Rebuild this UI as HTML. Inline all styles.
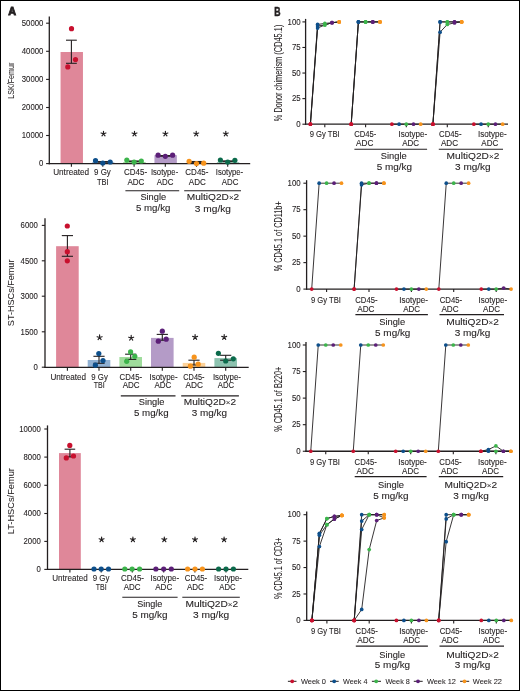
<!DOCTYPE html><html><head><meta charset="utf-8"><style>html,body{margin:0;padding:0;background:#fff;}svg{display:block;will-change:transform;} text{stroke:#231f20;stroke-width:0.1px;}</style></head><body><svg width="520" height="691" viewBox="0 0 520 691" font-family='"Liberation Sans", sans-serif' fill="#231f20">
<rect x="0" y="0" width="520" height="691" fill="#fff"/>
<rect x="60.55" y="52" width="22.4" height="111.6" fill="#df8799"/>
<rect x="91.95" y="162.3" width="22.4" height="1.3" fill="#90b0d2"/>
<rect x="123.25" y="162" width="22.4" height="1.6" fill="#9fdc9c"/>
<rect x="154.45" y="155.2" width="22.4" height="8.4" fill="#b49bc7"/>
<rect x="185.65" y="162.8" width="22.4" height="0.8" fill="#fdd39b"/>
<rect x="216.85" y="162.2" width="22.4" height="1.4" fill="#8ec3b0"/>
<line x1="71.4" y1="40.2" x2="71.4" y2="63.3" stroke="#231f20" stroke-width="1.1"/>
<line x1="66" y1="40.2" x2="76.8" y2="40.2" stroke="#231f20" stroke-width="1.1"/>
<line x1="66" y1="63.3" x2="76.8" y2="63.3" stroke="#231f20" stroke-width="1.1"/>
<line x1="102.8" y1="161.6" x2="102.8" y2="162.2" stroke="#231f20" stroke-width="1.1"/>
<line x1="97.4" y1="161.6" x2="108.2" y2="161.6" stroke="#231f20" stroke-width="1.1"/>
<line x1="97.4" y1="162.2" x2="108.2" y2="162.2" stroke="#231f20" stroke-width="1.1"/>
<line x1="134.1" y1="161" x2="134.1" y2="161.6" stroke="#231f20" stroke-width="1.1"/>
<line x1="128.7" y1="161" x2="139.5" y2="161" stroke="#231f20" stroke-width="1.1"/>
<line x1="128.7" y1="161.6" x2="139.5" y2="161.6" stroke="#231f20" stroke-width="1.1"/>
<line x1="165.3" y1="155.6" x2="165.3" y2="156.2" stroke="#231f20" stroke-width="1.1"/>
<line x1="159.9" y1="155.6" x2="170.7" y2="155.6" stroke="#231f20" stroke-width="1.1"/>
<line x1="159.9" y1="156.2" x2="170.7" y2="156.2" stroke="#231f20" stroke-width="1.1"/>
<line x1="196.5" y1="161.5" x2="196.5" y2="162.4" stroke="#231f20" stroke-width="1.1"/>
<line x1="191.1" y1="161.5" x2="201.9" y2="161.5" stroke="#231f20" stroke-width="1.1"/>
<line x1="191.1" y1="162.4" x2="201.9" y2="162.4" stroke="#231f20" stroke-width="1.1"/>
<line x1="227.7" y1="160.9" x2="227.7" y2="161.6" stroke="#231f20" stroke-width="1.1"/>
<line x1="222.3" y1="160.9" x2="233.1" y2="160.9" stroke="#231f20" stroke-width="1.1"/>
<line x1="222.3" y1="161.6" x2="233.1" y2="161.6" stroke="#231f20" stroke-width="1.1"/>
<line x1="49.3" y1="16.6" x2="49.3" y2="164.2" stroke="#231f20" stroke-width="1.3"/>
<line x1="48.7" y1="163.6" x2="250.2" y2="163.6" stroke="#231f20" stroke-width="1.3"/>
<line x1="46.1" y1="23.2" x2="49.3" y2="23.2" stroke="#231f20" stroke-width="1.1"/>
<text x="43.4" y="25.95" font-size="8.6" text-anchor="end" textLength="21.65" lengthAdjust="spacingAndGlyphs">50000</text>
<line x1="46.1" y1="51.3" x2="49.3" y2="51.3" stroke="#231f20" stroke-width="1.1"/>
<text x="43.4" y="54.05" font-size="8.6" text-anchor="end" textLength="21.65" lengthAdjust="spacingAndGlyphs">40000</text>
<line x1="46.1" y1="79.4" x2="49.3" y2="79.4" stroke="#231f20" stroke-width="1.1"/>
<text x="43.4" y="82.15" font-size="8.6" text-anchor="end" textLength="21.65" lengthAdjust="spacingAndGlyphs">30000</text>
<line x1="46.1" y1="107.5" x2="49.3" y2="107.5" stroke="#231f20" stroke-width="1.1"/>
<text x="43.4" y="110.25" font-size="8.6" text-anchor="end" textLength="21.65" lengthAdjust="spacingAndGlyphs">20000</text>
<line x1="46.1" y1="135.5" x2="49.3" y2="135.5" stroke="#231f20" stroke-width="1.1"/>
<text x="43.4" y="138.25" font-size="8.6" text-anchor="end" textLength="21.65" lengthAdjust="spacingAndGlyphs">10000</text>
<line x1="46.1" y1="163.6" x2="49.3" y2="163.6" stroke="#231f20" stroke-width="1.1"/>
<text x="43.4" y="166.35" font-size="8.6" text-anchor="end" textLength="4.33" lengthAdjust="spacingAndGlyphs">0</text>
<line x1="71.4" y1="163.6" x2="71.4" y2="166.8" stroke="#231f20" stroke-width="1.1"/>
<line x1="102.8" y1="163.6" x2="102.8" y2="166.8" stroke="#231f20" stroke-width="1.1"/>
<line x1="134.1" y1="163.6" x2="134.1" y2="166.8" stroke="#231f20" stroke-width="1.1"/>
<line x1="165.3" y1="163.6" x2="165.3" y2="166.8" stroke="#231f20" stroke-width="1.1"/>
<line x1="196.5" y1="163.6" x2="196.5" y2="166.8" stroke="#231f20" stroke-width="1.1"/>
<line x1="227.7" y1="163.6" x2="227.7" y2="166.8" stroke="#231f20" stroke-width="1.1"/>
<circle cx="71.5" cy="28.65" r="2.6" fill="#c8102e"/>
<circle cx="75.5" cy="59.5" r="2.6" fill="#c8102e"/>
<circle cx="67.8" cy="66.9" r="2.6" fill="#c8102e"/>
<circle cx="95.5" cy="160.7" r="2.6" fill="#0d4f8b"/>
<circle cx="102.8" cy="163" r="2.6" fill="#0d4f8b"/>
<circle cx="110.2" cy="162" r="2.6" fill="#0d4f8b"/>
<circle cx="126.8" cy="160.1" r="2.6" fill="#3cb44b"/>
<circle cx="134.1" cy="162" r="2.6" fill="#3cb44b"/>
<circle cx="141.3" cy="161" r="2.6" fill="#3cb44b"/>
<circle cx="158.1" cy="155.2" r="2.6" fill="#5c1f78"/>
<circle cx="165.3" cy="156.3" r="2.6" fill="#5c1f78"/>
<circle cx="172.6" cy="155.2" r="2.6" fill="#5c1f78"/>
<circle cx="189.1" cy="161.3" r="2.6" fill="#f7941d"/>
<circle cx="196.5" cy="163.6" r="2.6" fill="#f7941d"/>
<circle cx="203.7" cy="163.2" r="2.6" fill="#f7941d"/>
<circle cx="220.4" cy="160" r="2.6" fill="#0b6a4b"/>
<circle cx="227.7" cy="162.1" r="2.6" fill="#0b6a4b"/>
<circle cx="234.9" cy="160.3" r="2.6" fill="#0b6a4b"/>
<path d="M103.5 133.8L103.5 131.2M103.5 133.8L105.97 133M103.5 133.8L105.03 135.9M103.5 133.8L101.97 135.9M103.5 133.8L101.03 133" stroke="#231f20" stroke-width="1.15" stroke-linecap="round" fill="none"/>
<path d="M134.5 133.8L134.5 131.2M134.5 133.8L136.97 133M134.5 133.8L136.03 135.9M134.5 133.8L132.97 135.9M134.5 133.8L132.03 133" stroke="#231f20" stroke-width="1.15" stroke-linecap="round" fill="none"/>
<path d="M165.4 133.8L165.4 131.2M165.4 133.8L167.87 133M165.4 133.8L166.93 135.9M165.4 133.8L163.87 135.9M165.4 133.8L162.93 133" stroke="#231f20" stroke-width="1.15" stroke-linecap="round" fill="none"/>
<path d="M196.2 133.8L196.2 131.2M196.2 133.8L198.67 133M196.2 133.8L197.73 135.9M196.2 133.8L194.67 135.9M196.2 133.8L193.73 133" stroke="#231f20" stroke-width="1.15" stroke-linecap="round" fill="none"/>
<path d="M225.8 133.8L225.8 131.2M225.8 133.8L228.27 133M225.8 133.8L227.33 135.9M225.8 133.8L224.27 135.9M225.8 133.8L223.33 133" stroke="#231f20" stroke-width="1.15" stroke-linecap="round" fill="none"/>
<text x="14.5" y="80.7" font-size="9.3" text-anchor="middle" textLength="36.2" lengthAdjust="spacingAndGlyphs" transform="rotate(-90 14.5 80.7)" style="stroke-width:0.05px">LSK/Femur</text>
<text x="71.15" y="175.3" font-size="8.7" text-anchor="middle" textLength="36" lengthAdjust="spacingAndGlyphs">Untreated</text>
<text x="102.4" y="175.3" font-size="8.7" text-anchor="middle" textLength="16.8" lengthAdjust="spacingAndGlyphs">9 Gy</text>
<text x="102.7" y="184.8" font-size="8.7" text-anchor="middle" textLength="11.6" lengthAdjust="spacingAndGlyphs">TBI</text>
<text x="135.55" y="175.3" font-size="8.7" text-anchor="middle" textLength="23.1" lengthAdjust="spacingAndGlyphs">CD45-</text>
<text x="135.95" y="184.8" font-size="8.7" text-anchor="middle" textLength="17" lengthAdjust="spacingAndGlyphs">ADC</text>
<text x="164.55" y="175.3" font-size="8.7" text-anchor="middle" textLength="27.3" lengthAdjust="spacingAndGlyphs">Isotype-</text>
<text x="165.15" y="184.8" font-size="8.7" text-anchor="middle" textLength="16.6" lengthAdjust="spacingAndGlyphs">ADC</text>
<text x="196.9" y="175.3" font-size="8.7" text-anchor="middle" textLength="23.1" lengthAdjust="spacingAndGlyphs">CD45-</text>
<text x="197.3" y="184.8" font-size="8.7" text-anchor="middle" textLength="17" lengthAdjust="spacingAndGlyphs">ADC</text>
<text x="229.5" y="175.3" font-size="8.7" text-anchor="middle" textLength="27.3" lengthAdjust="spacingAndGlyphs">Isotype-</text>
<text x="230.1" y="184.8" font-size="8.7" text-anchor="middle" textLength="16.6" lengthAdjust="spacingAndGlyphs">ADC</text>
<line x1="125.4" y1="190.8" x2="179.2" y2="190.8" stroke="#231f20" stroke-width="1.1"/>
<line x1="184.2" y1="190.8" x2="241" y2="190.8" stroke="#231f20" stroke-width="1.1"/>
<text x="153.25" y="199.9" font-size="9.6" text-anchor="middle" textLength="25.7" lengthAdjust="spacingAndGlyphs">Single</text>
<text x="153.2" y="211.2" font-size="9.6" text-anchor="middle" textLength="34.4" lengthAdjust="spacingAndGlyphs">5 mg/kg</text>
<text x="213" y="200.3" font-size="9.6" text-anchor="middle" textLength="52.5" lengthAdjust="spacingAndGlyphs">MultiQ2D<tspan font-size="7.68" style="stroke-width:0">×</tspan>2</text>
<text x="212.9" y="211.5" font-size="9.6" text-anchor="middle" textLength="36.1" lengthAdjust="spacingAndGlyphs">3 mg/kg</text>
<rect x="56.1" y="246.2" width="22.6" height="121.25" fill="#df8799"/>
<rect x="87.7" y="360" width="22.6" height="7.45" fill="#90b0d2"/>
<rect x="119.4" y="357" width="22.6" height="10.45" fill="#9fdc9c"/>
<rect x="151" y="337.9" width="22.6" height="29.55" fill="#b49bc7"/>
<rect x="182.7" y="362.9" width="22.6" height="4.55" fill="#fdd39b"/>
<rect x="214.4" y="358.1" width="22.6" height="9.35" fill="#8ec3b0"/>
<line x1="67.4" y1="235.6" x2="67.4" y2="256.3" stroke="#231f20" stroke-width="1.1"/>
<line x1="61.8" y1="235.6" x2="73" y2="235.6" stroke="#231f20" stroke-width="1.1"/>
<line x1="61.8" y1="256.3" x2="73" y2="256.3" stroke="#231f20" stroke-width="1.1"/>
<line x1="99" y1="356.3" x2="99" y2="363.3" stroke="#231f20" stroke-width="1.1"/>
<line x1="93.4" y1="356.3" x2="104.6" y2="356.3" stroke="#231f20" stroke-width="1.1"/>
<line x1="93.4" y1="363.3" x2="104.6" y2="363.3" stroke="#231f20" stroke-width="1.1"/>
<line x1="130.7" y1="354.2" x2="130.7" y2="359.4" stroke="#231f20" stroke-width="1.1"/>
<line x1="125.1" y1="354.2" x2="136.3" y2="354.2" stroke="#231f20" stroke-width="1.1"/>
<line x1="125.1" y1="359.4" x2="136.3" y2="359.4" stroke="#231f20" stroke-width="1.1"/>
<line x1="162.3" y1="334.4" x2="162.3" y2="340.2" stroke="#231f20" stroke-width="1.1"/>
<line x1="156.7" y1="334.4" x2="167.9" y2="334.4" stroke="#231f20" stroke-width="1.1"/>
<line x1="156.7" y1="340.2" x2="167.9" y2="340.2" stroke="#231f20" stroke-width="1.1"/>
<line x1="194" y1="360.2" x2="194" y2="365" stroke="#231f20" stroke-width="1.1"/>
<line x1="188.4" y1="360.2" x2="199.6" y2="360.2" stroke="#231f20" stroke-width="1.1"/>
<line x1="188.4" y1="365" x2="199.6" y2="365" stroke="#231f20" stroke-width="1.1"/>
<line x1="225.7" y1="355.3" x2="225.7" y2="360.2" stroke="#231f20" stroke-width="1.1"/>
<line x1="220.1" y1="355.3" x2="231.3" y2="355.3" stroke="#231f20" stroke-width="1.1"/>
<line x1="220.1" y1="360.2" x2="231.3" y2="360.2" stroke="#231f20" stroke-width="1.1"/>
<line x1="45" y1="218.2" x2="45" y2="368.05" stroke="#231f20" stroke-width="1.3"/>
<line x1="44.4" y1="367.45" x2="248.7" y2="367.45" stroke="#231f20" stroke-width="1.3"/>
<line x1="41.8" y1="225.4" x2="45" y2="225.4" stroke="#231f20" stroke-width="1.1"/>
<text x="37.9" y="228.15" font-size="8.6" text-anchor="end" textLength="17.32" lengthAdjust="spacingAndGlyphs">6000</text>
<line x1="41.8" y1="260.8" x2="45" y2="260.8" stroke="#231f20" stroke-width="1.1"/>
<text x="37.9" y="263.55" font-size="8.6" text-anchor="end" textLength="17.32" lengthAdjust="spacingAndGlyphs">4500</text>
<line x1="41.8" y1="296.2" x2="45" y2="296.2" stroke="#231f20" stroke-width="1.1"/>
<text x="37.9" y="298.95" font-size="8.6" text-anchor="end" textLength="17.32" lengthAdjust="spacingAndGlyphs">3000</text>
<line x1="41.8" y1="331.8" x2="45" y2="331.8" stroke="#231f20" stroke-width="1.1"/>
<text x="37.9" y="334.55" font-size="8.6" text-anchor="end" textLength="17.32" lengthAdjust="spacingAndGlyphs">1500</text>
<line x1="41.8" y1="367.2" x2="45" y2="367.2" stroke="#231f20" stroke-width="1.1"/>
<text x="37.9" y="369.95" font-size="8.6" text-anchor="end" textLength="4.33" lengthAdjust="spacingAndGlyphs">0</text>
<line x1="67.4" y1="367.45" x2="67.4" y2="370.65" stroke="#231f20" stroke-width="1.1"/>
<line x1="99" y1="367.45" x2="99" y2="370.65" stroke="#231f20" stroke-width="1.1"/>
<line x1="130.7" y1="367.45" x2="130.7" y2="370.65" stroke="#231f20" stroke-width="1.1"/>
<line x1="162.3" y1="367.45" x2="162.3" y2="370.65" stroke="#231f20" stroke-width="1.1"/>
<line x1="194" y1="367.45" x2="194" y2="370.65" stroke="#231f20" stroke-width="1.1"/>
<line x1="225.7" y1="367.45" x2="225.7" y2="370.65" stroke="#231f20" stroke-width="1.1"/>
<circle cx="67.3" cy="226" r="2.6" fill="#c8102e"/>
<circle cx="67.3" cy="251.7" r="2.6" fill="#c8102e"/>
<circle cx="67.3" cy="260.8" r="2.6" fill="#c8102e"/>
<circle cx="98.8" cy="353.5" r="2.6" fill="#0d4f8b"/>
<circle cx="103" cy="360.6" r="2.6" fill="#0d4f8b"/>
<circle cx="95.4" cy="365.2" r="2.6" fill="#0d4f8b"/>
<circle cx="130.6" cy="351.9" r="2.6" fill="#3cb44b"/>
<circle cx="134.8" cy="356.3" r="2.6" fill="#3cb44b"/>
<circle cx="126.7" cy="361.3" r="2.6" fill="#3cb44b"/>
<circle cx="162.3" cy="331.2" r="2.6" fill="#5c1f78"/>
<circle cx="166.2" cy="339.2" r="2.6" fill="#5c1f78"/>
<circle cx="158.3" cy="341.2" r="2.6" fill="#5c1f78"/>
<circle cx="194.2" cy="357.2" r="2.6" fill="#f7941d"/>
<circle cx="198.2" cy="364.2" r="2.6" fill="#f7941d"/>
<circle cx="190.4" cy="366.2" r="2.6" fill="#f7941d"/>
<circle cx="218.4" cy="353.3" r="2.6" fill="#0b6a4b"/>
<circle cx="233.3" cy="358.8" r="2.6" fill="#0b6a4b"/>
<circle cx="225.7" cy="361" r="2.6" fill="#0b6a4b"/>
<path d="M99.6 337.5L99.6 334.9M99.6 337.5L102.07 336.7M99.6 337.5L101.13 339.6M99.6 337.5L98.07 339.6M99.6 337.5L97.13 336.7" stroke="#231f20" stroke-width="1.15" stroke-linecap="round" fill="none"/>
<path d="M131.2 338L131.2 335.4M131.2 338L133.67 337.2M131.2 338L132.73 340.1M131.2 338L129.67 340.1M131.2 338L128.73 337.2" stroke="#231f20" stroke-width="1.15" stroke-linecap="round" fill="none"/>
<path d="M195.1 337.2L195.1 334.6M195.1 337.2L197.57 336.4M195.1 337.2L196.63 339.3M195.1 337.2L193.57 339.3M195.1 337.2L192.63 336.4" stroke="#231f20" stroke-width="1.15" stroke-linecap="round" fill="none"/>
<path d="M224.2 337.2L224.2 334.6M224.2 337.2L226.67 336.4M224.2 337.2L225.73 339.3M224.2 337.2L222.67 339.3M224.2 337.2L221.73 336.4" stroke="#231f20" stroke-width="1.15" stroke-linecap="round" fill="none"/>
<text x="14" y="292.85" font-size="9.3" text-anchor="middle" textLength="66.6" lengthAdjust="spacingAndGlyphs" transform="rotate(-90 14 292.85)" style="stroke-width:0.05px">ST-HSCs/Femur</text>
<text x="68.3" y="380.3" font-size="8.7" text-anchor="middle" textLength="35.6" lengthAdjust="spacingAndGlyphs">Untreated</text>
<text x="99.55" y="380.3" font-size="8.7" text-anchor="middle" textLength="16.5" lengthAdjust="spacingAndGlyphs">9 Gy</text>
<text x="99.15" y="387.8" font-size="8.7" text-anchor="middle" textLength="10.9" lengthAdjust="spacingAndGlyphs">TBI</text>
<text x="130.85" y="380.3" font-size="8.7" text-anchor="middle" textLength="22.5" lengthAdjust="spacingAndGlyphs">CD45-</text>
<text x="131.1" y="387.8" font-size="8.7" text-anchor="middle" textLength="16.9" lengthAdjust="spacingAndGlyphs">ADC</text>
<text x="163.55" y="380.3" font-size="8.7" text-anchor="middle" textLength="28.1" lengthAdjust="spacingAndGlyphs">Isotype-</text>
<text x="162.85" y="387.8" font-size="8.7" text-anchor="middle" textLength="16.9" lengthAdjust="spacingAndGlyphs">ADC</text>
<text x="193.9" y="380.3" font-size="8.7" text-anchor="middle" textLength="21.2" lengthAdjust="spacingAndGlyphs">CD45-</text>
<text x="194.25" y="387.8" font-size="8.7" text-anchor="middle" textLength="17.5" lengthAdjust="spacingAndGlyphs">ADC</text>
<text x="226.95" y="380.3" font-size="8.7" text-anchor="middle" textLength="28.1" lengthAdjust="spacingAndGlyphs">Isotype-</text>
<text x="225.95" y="387.8" font-size="8.7" text-anchor="middle" textLength="16.3" lengthAdjust="spacingAndGlyphs">ADC</text>
<line x1="120.8" y1="395.9" x2="175.5" y2="395.9" stroke="#231f20" stroke-width="1.1"/>
<line x1="181.2" y1="395.9" x2="238.9" y2="395.9" stroke="#231f20" stroke-width="1.1"/>
<text x="151.6" y="405.2" font-size="9.6" text-anchor="middle" textLength="25.7" lengthAdjust="spacingAndGlyphs">Single</text>
<text x="151.3" y="415.7" font-size="9.6" text-anchor="middle" textLength="34.6" lengthAdjust="spacingAndGlyphs">5 mg/kg</text>
<text x="210" y="405.2" font-size="9.6" text-anchor="middle" textLength="52.4" lengthAdjust="spacingAndGlyphs">MultiQ2D<tspan font-size="7.68" style="stroke-width:0">×</tspan>2</text>
<text x="209.45" y="415.7" font-size="9.6" text-anchor="middle" textLength="35.3" lengthAdjust="spacingAndGlyphs">3 mg/kg</text>
<rect x="59" y="453.1" width="21.8" height="116.3" fill="#df8799"/>
<line x1="69.9" y1="449.2" x2="69.9" y2="456.9" stroke="#231f20" stroke-width="1.1"/>
<line x1="64.6" y1="449.2" x2="75.2" y2="449.2" stroke="#231f20" stroke-width="1.1"/>
<line x1="64.6" y1="456.9" x2="75.2" y2="456.9" stroke="#231f20" stroke-width="1.1"/>
<line x1="47.5" y1="425.4" x2="47.5" y2="570" stroke="#231f20" stroke-width="1.3"/>
<line x1="46.9" y1="569.4" x2="248.3" y2="569.4" stroke="#231f20" stroke-width="1.3"/>
<line x1="44.3" y1="429" x2="47.5" y2="429" stroke="#231f20" stroke-width="1.1"/>
<text x="40.8" y="431.75" font-size="8.6" text-anchor="end" textLength="21.65" lengthAdjust="spacingAndGlyphs">10000</text>
<line x1="44.3" y1="457.1" x2="47.5" y2="457.1" stroke="#231f20" stroke-width="1.1"/>
<text x="40.8" y="459.85" font-size="8.6" text-anchor="end" textLength="17.32" lengthAdjust="spacingAndGlyphs">8000</text>
<line x1="44.3" y1="485.3" x2="47.5" y2="485.3" stroke="#231f20" stroke-width="1.1"/>
<text x="40.8" y="488.05" font-size="8.6" text-anchor="end" textLength="17.32" lengthAdjust="spacingAndGlyphs">6000</text>
<line x1="44.3" y1="513.5" x2="47.5" y2="513.5" stroke="#231f20" stroke-width="1.1"/>
<text x="40.8" y="516.25" font-size="8.6" text-anchor="end" textLength="17.32" lengthAdjust="spacingAndGlyphs">4000</text>
<line x1="44.3" y1="541.4" x2="47.5" y2="541.4" stroke="#231f20" stroke-width="1.1"/>
<text x="40.8" y="544.15" font-size="8.6" text-anchor="end" textLength="17.32" lengthAdjust="spacingAndGlyphs">2000</text>
<line x1="44.3" y1="569.4" x2="47.5" y2="569.4" stroke="#231f20" stroke-width="1.1"/>
<text x="40.8" y="572.15" font-size="8.6" text-anchor="end" textLength="4.33" lengthAdjust="spacingAndGlyphs">0</text>
<line x1="69.9" y1="569.4" x2="69.9" y2="572.6" stroke="#231f20" stroke-width="1.1"/>
<line x1="101.2" y1="569.4" x2="101.2" y2="572.6" stroke="#231f20" stroke-width="1.1"/>
<line x1="132.3" y1="569.4" x2="132.3" y2="572.6" stroke="#231f20" stroke-width="1.1"/>
<line x1="163.7" y1="569.4" x2="163.7" y2="572.6" stroke="#231f20" stroke-width="1.1"/>
<line x1="194.9" y1="569.4" x2="194.9" y2="572.6" stroke="#231f20" stroke-width="1.1"/>
<line x1="226" y1="569.4" x2="226" y2="572.6" stroke="#231f20" stroke-width="1.1"/>
<circle cx="69.8" cy="445.4" r="2.6" fill="#c8102e"/>
<circle cx="73.5" cy="456" r="2.6" fill="#c8102e"/>
<circle cx="66.3" cy="457.9" r="2.6" fill="#c8102e"/>
<circle cx="94" cy="569" r="2.6" fill="#0d4f8b"/>
<circle cx="101.2" cy="569" r="2.6" fill="#0d4f8b"/>
<circle cx="108.5" cy="569" r="2.6" fill="#0d4f8b"/>
<circle cx="124.8" cy="569" r="2.6" fill="#3cb44b"/>
<circle cx="132.1" cy="569" r="2.6" fill="#3cb44b"/>
<circle cx="139.6" cy="569" r="2.6" fill="#3cb44b"/>
<circle cx="155.9" cy="569" r="2.6" fill="#5c1f78"/>
<circle cx="163.7" cy="569" r="2.6" fill="#5c1f78"/>
<circle cx="171.3" cy="569" r="2.6" fill="#5c1f78"/>
<circle cx="187.6" cy="569" r="2.6" fill="#f7941d"/>
<circle cx="195" cy="569" r="2.6" fill="#f7941d"/>
<circle cx="202.4" cy="569" r="2.6" fill="#f7941d"/>
<circle cx="218.6" cy="569" r="2.6" fill="#0b6a4b"/>
<circle cx="226" cy="569" r="2.6" fill="#0b6a4b"/>
<circle cx="233.4" cy="569" r="2.6" fill="#0b6a4b"/>
<path d="M101.6 539.6L101.6 537M101.6 539.6L104.07 538.8M101.6 539.6L103.13 541.7M101.6 539.6L100.07 541.7M101.6 539.6L99.13 538.8" stroke="#231f20" stroke-width="1.15" stroke-linecap="round" fill="none"/>
<path d="M132.9 539.6L132.9 537M132.9 539.6L135.37 538.8M132.9 539.6L134.43 541.7M132.9 539.6L131.37 541.7M132.9 539.6L130.43 538.8" stroke="#231f20" stroke-width="1.15" stroke-linecap="round" fill="none"/>
<path d="M164.3 539.6L164.3 537M164.3 539.6L166.77 538.8M164.3 539.6L165.83 541.7M164.3 539.6L162.77 541.7M164.3 539.6L161.83 538.8" stroke="#231f20" stroke-width="1.15" stroke-linecap="round" fill="none"/>
<path d="M195 539.6L195 537M195 539.6L197.47 538.8M195 539.6L196.53 541.7M195 539.6L193.47 541.7M195 539.6L192.53 538.8" stroke="#231f20" stroke-width="1.15" stroke-linecap="round" fill="none"/>
<path d="M224.1 539.6L224.1 537M224.1 539.6L226.57 538.8M224.1 539.6L225.63 541.7M224.1 539.6L222.57 541.7M224.1 539.6L221.63 538.8" stroke="#231f20" stroke-width="1.15" stroke-linecap="round" fill="none"/>
<text x="13.6" y="501.2" font-size="9.3" text-anchor="middle" textLength="66.1" lengthAdjust="spacingAndGlyphs" transform="rotate(-90 13.6 501.2)" style="stroke-width:0.05px">LT-HSCs/Femur</text>
<text x="70" y="581.3" font-size="8.7" text-anchor="middle" textLength="35.4" lengthAdjust="spacingAndGlyphs">Untreated</text>
<text x="101.05" y="581.3" font-size="8.7" text-anchor="middle" textLength="16.7" lengthAdjust="spacingAndGlyphs">9 Gy</text>
<text x="101.2" y="589.6" font-size="8.7" text-anchor="middle" textLength="10.9" lengthAdjust="spacingAndGlyphs">TBI</text>
<text x="132.5" y="581.3" font-size="8.7" text-anchor="middle" textLength="23" lengthAdjust="spacingAndGlyphs">CD45-</text>
<text x="132.2" y="589.6" font-size="8.7" text-anchor="middle" textLength="16.8" lengthAdjust="spacingAndGlyphs">ADC</text>
<text x="164.85" y="581.3" font-size="8.7" text-anchor="middle" textLength="28.5" lengthAdjust="spacingAndGlyphs">Isotype-</text>
<text x="163.75" y="589.6" font-size="8.7" text-anchor="middle" textLength="17.1" lengthAdjust="spacingAndGlyphs">ADC</text>
<text x="196" y="581.3" font-size="8.7" text-anchor="middle" textLength="22.4" lengthAdjust="spacingAndGlyphs">CD45-</text>
<text x="195.35" y="589.6" font-size="8.7" text-anchor="middle" textLength="16.9" lengthAdjust="spacingAndGlyphs">ADC</text>
<text x="227.95" y="581.3" font-size="8.7" text-anchor="middle" textLength="27.9" lengthAdjust="spacingAndGlyphs">Isotype-</text>
<text x="227.45" y="589.6" font-size="8.7" text-anchor="middle" textLength="16.3" lengthAdjust="spacingAndGlyphs">ADC</text>
<line x1="122.3" y1="597.2" x2="177.6" y2="597.2" stroke="#231f20" stroke-width="1.1"/>
<line x1="182.3" y1="597.2" x2="239.8" y2="597.2" stroke="#231f20" stroke-width="1.1"/>
<text x="149.8" y="607.3" font-size="9.6" text-anchor="middle" textLength="25.2" lengthAdjust="spacingAndGlyphs">Single</text>
<text x="149.95" y="618.2" font-size="9.6" text-anchor="middle" textLength="35.3" lengthAdjust="spacingAndGlyphs">5 mg/kg</text>
<text x="211.9" y="606.9" font-size="9.6" text-anchor="middle" textLength="52.8" lengthAdjust="spacingAndGlyphs">MultiQ2D<tspan font-size="7.68" style="stroke-width:0">×</tspan>2</text>
<text x="211.05" y="617.9" font-size="9.6" text-anchor="middle" textLength="36.3" lengthAdjust="spacingAndGlyphs">3 mg/kg</text>
<line x1="305.6" y1="18.9" x2="305.6" y2="124.8" stroke="#231f20" stroke-width="1.3"/>
<line x1="305" y1="124.2" x2="508" y2="124.2" stroke="#231f20" stroke-width="1.3"/>
<line x1="302.4" y1="21.9" x2="305.6" y2="21.9" stroke="#231f20" stroke-width="1.1"/>
<text x="300.7" y="24.65" font-size="8.6" text-anchor="end" textLength="13.11" lengthAdjust="spacingAndGlyphs">100</text>
<line x1="302.4" y1="47.47" x2="305.6" y2="47.47" stroke="#231f20" stroke-width="1.1"/>
<text x="300.7" y="50.22" font-size="8.6" text-anchor="end" textLength="8.74" lengthAdjust="spacingAndGlyphs">75</text>
<line x1="302.4" y1="73.05" x2="305.6" y2="73.05" stroke="#231f20" stroke-width="1.1"/>
<text x="300.7" y="75.8" font-size="8.6" text-anchor="end" textLength="8.74" lengthAdjust="spacingAndGlyphs">50</text>
<line x1="302.4" y1="98.62" x2="305.6" y2="98.62" stroke="#231f20" stroke-width="1.1"/>
<text x="300.7" y="101.38" font-size="8.6" text-anchor="end" textLength="8.74" lengthAdjust="spacingAndGlyphs">25</text>
<line x1="302.4" y1="124.2" x2="305.6" y2="124.2" stroke="#231f20" stroke-width="1.1"/>
<text x="300.7" y="126.95" font-size="8.6" text-anchor="end" textLength="4.37" lengthAdjust="spacingAndGlyphs">0</text>
<line x1="324.8" y1="124.2" x2="324.8" y2="127.2" stroke="#231f20" stroke-width="1.1"/>
<line x1="365.6" y1="124.2" x2="365.6" y2="127.2" stroke="#231f20" stroke-width="1.1"/>
<line x1="406.3" y1="124.2" x2="406.3" y2="127.2" stroke="#231f20" stroke-width="1.1"/>
<line x1="447.3" y1="124.2" x2="447.3" y2="127.2" stroke="#231f20" stroke-width="1.1"/>
<line x1="488.25" y1="124.2" x2="488.25" y2="127.2" stroke="#231f20" stroke-width="1.1"/>
<polyline points="310.4,124.2 317.6,24.46 324.8,23.43 332,22.72 339.2,21.9" fill="none" stroke="#231f20" stroke-width="0.9" stroke-linejoin="round"/>
<polyline points="310.4,124.2 317.6,25.99 324.8,24.97 332,22.72 339.2,21.9" fill="none" stroke="#231f20" stroke-width="0.9" stroke-linejoin="round"/>
<polyline points="310.4,124.2 317.6,28.04 324.8,24.97 332,22.72 339.2,21.9" fill="none" stroke="#231f20" stroke-width="0.9" stroke-linejoin="round"/>
<polyline points="351.2,124.2 358.4,21.9 365.6,21.9 372.8,21.9 380,21.9" fill="none" stroke="#231f20" stroke-width="0.9" stroke-linejoin="round"/>
<polyline points="351.2,124.2 358.4,21.9 365.6,21.9 372.8,21.9 380,21.9" fill="none" stroke="#231f20" stroke-width="0.9" stroke-linejoin="round"/>
<polyline points="351.2,124.2 358.4,21.9 365.6,21.9 372.8,21.9 380,21.9" fill="none" stroke="#231f20" stroke-width="0.9" stroke-linejoin="round"/>
<polyline points="391.9,124.2 399.1,124.2 406.3,124.2 413.5,124.2 420.7,124.2" fill="none" stroke="#231f20" stroke-width="0.9" stroke-linejoin="round"/>
<polyline points="432.9,124.2 440.1,21.9 447.3,21.9 454.5,21.9 461.7,21.9" fill="none" stroke="#231f20" stroke-width="0.9" stroke-linejoin="round"/>
<polyline points="432.9,124.2 440.1,21.9 447.3,21.9 454.5,21.9 461.7,21.9" fill="none" stroke="#231f20" stroke-width="0.9" stroke-linejoin="round"/>
<polyline points="432.9,124.2 440.1,32.13 447.3,24.46 454.5,22.92 461.7,21.9" fill="none" stroke="#231f20" stroke-width="0.9" stroke-linejoin="round"/>
<polyline points="473.85,124.2 481.05,124.2 488.25,124.2 495.45,124.2 502.65,124.2" fill="none" stroke="#231f20" stroke-width="0.9" stroke-linejoin="round"/>
<circle cx="310.4" cy="124.2" r="1.85" fill="#c8102e"/>
<circle cx="317.6" cy="24.46" r="1.85" fill="#0d4f8b"/>
<circle cx="324.8" cy="23.43" r="1.85" fill="#3cb44b"/>
<circle cx="332" cy="22.72" r="1.85" fill="#5c1f78"/>
<circle cx="339.2" cy="21.9" r="1.85" fill="#f7941d"/>
<circle cx="310.4" cy="124.2" r="1.85" fill="#c8102e"/>
<circle cx="317.6" cy="25.99" r="1.85" fill="#0d4f8b"/>
<circle cx="324.8" cy="24.97" r="1.85" fill="#3cb44b"/>
<circle cx="332" cy="22.72" r="1.85" fill="#5c1f78"/>
<circle cx="339.2" cy="21.9" r="1.85" fill="#f7941d"/>
<circle cx="310.4" cy="124.2" r="1.85" fill="#c8102e"/>
<circle cx="317.6" cy="28.04" r="1.85" fill="#0d4f8b"/>
<circle cx="324.8" cy="24.97" r="1.85" fill="#3cb44b"/>
<circle cx="332" cy="22.72" r="1.85" fill="#5c1f78"/>
<circle cx="339.2" cy="21.9" r="1.85" fill="#f7941d"/>
<circle cx="351.2" cy="124.2" r="1.85" fill="#c8102e"/>
<circle cx="358.4" cy="21.9" r="1.85" fill="#0d4f8b"/>
<circle cx="365.6" cy="21.9" r="1.85" fill="#3cb44b"/>
<circle cx="372.8" cy="21.9" r="1.85" fill="#5c1f78"/>
<circle cx="380" cy="21.9" r="1.85" fill="#f7941d"/>
<circle cx="351.2" cy="124.2" r="1.85" fill="#c8102e"/>
<circle cx="358.4" cy="21.9" r="1.85" fill="#0d4f8b"/>
<circle cx="365.6" cy="21.9" r="1.85" fill="#3cb44b"/>
<circle cx="372.8" cy="21.9" r="1.85" fill="#5c1f78"/>
<circle cx="380" cy="21.9" r="1.85" fill="#f7941d"/>
<circle cx="351.2" cy="124.2" r="1.85" fill="#c8102e"/>
<circle cx="358.4" cy="21.9" r="1.85" fill="#0d4f8b"/>
<circle cx="365.6" cy="21.9" r="1.85" fill="#3cb44b"/>
<circle cx="372.8" cy="21.9" r="1.85" fill="#5c1f78"/>
<circle cx="380" cy="21.9" r="1.85" fill="#f7941d"/>
<circle cx="391.9" cy="124.2" r="1.85" fill="#c8102e"/>
<circle cx="399.1" cy="124.2" r="1.85" fill="#0d4f8b"/>
<circle cx="406.3" cy="124.2" r="1.85" fill="#3cb44b"/>
<circle cx="413.5" cy="124.2" r="1.85" fill="#5c1f78"/>
<circle cx="420.7" cy="124.2" r="1.85" fill="#f7941d"/>
<circle cx="432.9" cy="124.2" r="1.85" fill="#c8102e"/>
<circle cx="440.1" cy="21.9" r="1.85" fill="#0d4f8b"/>
<circle cx="447.3" cy="21.9" r="1.85" fill="#3cb44b"/>
<circle cx="454.5" cy="21.9" r="1.85" fill="#5c1f78"/>
<circle cx="461.7" cy="21.9" r="1.85" fill="#f7941d"/>
<circle cx="432.9" cy="124.2" r="1.85" fill="#c8102e"/>
<circle cx="440.1" cy="21.9" r="1.85" fill="#0d4f8b"/>
<circle cx="447.3" cy="21.9" r="1.85" fill="#3cb44b"/>
<circle cx="454.5" cy="21.9" r="1.85" fill="#5c1f78"/>
<circle cx="461.7" cy="21.9" r="1.85" fill="#f7941d"/>
<circle cx="432.9" cy="124.2" r="1.85" fill="#c8102e"/>
<circle cx="440.1" cy="32.13" r="1.85" fill="#0d4f8b"/>
<circle cx="447.3" cy="24.46" r="1.85" fill="#3cb44b"/>
<circle cx="454.5" cy="22.92" r="1.85" fill="#5c1f78"/>
<circle cx="461.7" cy="21.9" r="1.85" fill="#f7941d"/>
<circle cx="473.85" cy="124.2" r="1.85" fill="#c8102e"/>
<circle cx="481.05" cy="124.2" r="1.85" fill="#0d4f8b"/>
<circle cx="488.25" cy="124.2" r="1.85" fill="#3cb44b"/>
<circle cx="495.45" cy="124.2" r="1.85" fill="#5c1f78"/>
<circle cx="502.65" cy="124.2" r="1.85" fill="#f7941d"/>
<text x="281.9" y="72.95" font-size="10" text-anchor="middle" textLength="96.6" lengthAdjust="spacingAndGlyphs" transform="rotate(-90 281.9 72.95)" style="stroke-width:0.05px">% Donor chimerism (CD45.1)</text>
<text x="324.7" y="137.3" font-size="8.7" text-anchor="middle" textLength="30" lengthAdjust="spacingAndGlyphs">9 Gy TBI</text>
<text x="365.25" y="137.3" font-size="8.7" text-anchor="middle" textLength="22.2" lengthAdjust="spacingAndGlyphs">CD45-</text>
<text x="364.65" y="145.8" font-size="8.7" text-anchor="middle" textLength="17.3" lengthAdjust="spacingAndGlyphs">ADC</text>
<text x="412.8" y="137.3" font-size="8.7" text-anchor="middle" textLength="28.6" lengthAdjust="spacingAndGlyphs">Isotype-</text>
<text x="410.6" y="145.8" font-size="8.7" text-anchor="middle" textLength="16.9" lengthAdjust="spacingAndGlyphs">ADC</text>
<text x="450.3" y="137.3" font-size="8.7" text-anchor="middle" textLength="22.4" lengthAdjust="spacingAndGlyphs">CD45-</text>
<text x="449.5" y="145.8" font-size="8.7" text-anchor="middle" textLength="17.2" lengthAdjust="spacingAndGlyphs">ADC</text>
<text x="492.3" y="137.3" font-size="8.7" text-anchor="middle" textLength="28.6" lengthAdjust="spacingAndGlyphs">Isotype-</text>
<text x="489.8" y="145.8" font-size="8.7" text-anchor="middle" textLength="16.9" lengthAdjust="spacingAndGlyphs">ADC</text>
<line x1="354.4" y1="149.3" x2="427.1" y2="149.3" stroke="#231f20" stroke-width="1.1"/>
<line x1="438.8" y1="149.3" x2="503" y2="149.3" stroke="#231f20" stroke-width="1.1"/>
<text x="393.75" y="158.8" font-size="9.6" text-anchor="middle" textLength="25.9" lengthAdjust="spacingAndGlyphs">Single</text>
<text x="394.35" y="169.7" font-size="9.6" text-anchor="middle" textLength="35.3" lengthAdjust="spacingAndGlyphs">5 mg/kg</text>
<text x="472.95" y="159.3" font-size="9.6" text-anchor="middle" textLength="52.7" lengthAdjust="spacingAndGlyphs">MultiQ2D<tspan font-size="7.68" style="stroke-width:0">×</tspan>2</text>
<text x="472.9" y="169.9" font-size="9.6" text-anchor="middle" textLength="35.6" lengthAdjust="spacingAndGlyphs">3 mg/kg</text>
<line x1="306.6" y1="180.2" x2="306.6" y2="289.7" stroke="#231f20" stroke-width="1.3"/>
<line x1="306" y1="289.1" x2="512" y2="289.1" stroke="#231f20" stroke-width="1.3"/>
<line x1="303.4" y1="183.2" x2="306.6" y2="183.2" stroke="#231f20" stroke-width="1.1"/>
<text x="300.7" y="185.95" font-size="8.6" text-anchor="end" textLength="13.11" lengthAdjust="spacingAndGlyphs">100</text>
<line x1="303.4" y1="209.68" x2="306.6" y2="209.68" stroke="#231f20" stroke-width="1.1"/>
<text x="300.7" y="212.43" font-size="8.6" text-anchor="end" textLength="8.74" lengthAdjust="spacingAndGlyphs">75</text>
<line x1="303.4" y1="236.15" x2="306.6" y2="236.15" stroke="#231f20" stroke-width="1.1"/>
<text x="300.7" y="238.9" font-size="8.6" text-anchor="end" textLength="8.74" lengthAdjust="spacingAndGlyphs">50</text>
<line x1="303.4" y1="262.62" x2="306.6" y2="262.62" stroke="#231f20" stroke-width="1.1"/>
<text x="300.7" y="265.38" font-size="8.6" text-anchor="end" textLength="8.74" lengthAdjust="spacingAndGlyphs">25</text>
<line x1="303.4" y1="289.1" x2="306.6" y2="289.1" stroke="#231f20" stroke-width="1.1"/>
<text x="300.7" y="291.85" font-size="8.6" text-anchor="end" textLength="4.37" lengthAdjust="spacingAndGlyphs">0</text>
<line x1="326.6" y1="289.1" x2="326.6" y2="292.1" stroke="#231f20" stroke-width="1.1"/>
<line x1="369" y1="289.1" x2="369" y2="292.1" stroke="#231f20" stroke-width="1.1"/>
<line x1="411.4" y1="289.1" x2="411.4" y2="292.1" stroke="#231f20" stroke-width="1.1"/>
<line x1="453.7" y1="289.1" x2="453.7" y2="292.1" stroke="#231f20" stroke-width="1.1"/>
<line x1="496.2" y1="289.1" x2="496.2" y2="292.1" stroke="#231f20" stroke-width="1.1"/>
<polyline points="311.7,289.1 319.15,183.2 326.6,183.2 334.05,183.2 341.5,183.2" fill="none" stroke="#231f20" stroke-width="0.9" stroke-linejoin="round"/>
<polyline points="354.1,289.1 361.55,183.2 369,183.2 376.45,183.2 383.9,183.2" fill="none" stroke="#231f20" stroke-width="0.9" stroke-linejoin="round"/>
<polyline points="354.1,289.1 361.55,184.79 369,183.2 376.45,183.2 383.9,183.2" fill="none" stroke="#231f20" stroke-width="0.9" stroke-linejoin="round"/>
<polyline points="396.5,289.1 403.95,289.1 411.4,289.1 418.85,289.1 426.3,289.1" fill="none" stroke="#231f20" stroke-width="0.9" stroke-linejoin="round"/>
<polyline points="438.8,289.1 446.25,183.2 453.7,183.2 461.15,183.2 468.6,183.2" fill="none" stroke="#231f20" stroke-width="0.9" stroke-linejoin="round"/>
<polyline points="481.3,289.1 488.75,289.1 496.2,289.1 503.65,288.04 511.1,289.1" fill="none" stroke="#231f20" stroke-width="0.9" stroke-linejoin="round"/>
<circle cx="311.7" cy="289.1" r="1.85" fill="#c8102e"/>
<circle cx="319.15" cy="183.2" r="1.85" fill="#0d4f8b"/>
<circle cx="326.6" cy="183.2" r="1.85" fill="#3cb44b"/>
<circle cx="334.05" cy="183.2" r="1.85" fill="#5c1f78"/>
<circle cx="341.5" cy="183.2" r="1.85" fill="#f7941d"/>
<circle cx="354.1" cy="289.1" r="1.85" fill="#c8102e"/>
<circle cx="361.55" cy="183.2" r="1.85" fill="#0d4f8b"/>
<circle cx="369" cy="183.2" r="1.85" fill="#3cb44b"/>
<circle cx="376.45" cy="183.2" r="1.85" fill="#5c1f78"/>
<circle cx="383.9" cy="183.2" r="1.85" fill="#f7941d"/>
<circle cx="354.1" cy="289.1" r="1.85" fill="#c8102e"/>
<circle cx="361.55" cy="184.79" r="1.85" fill="#0d4f8b"/>
<circle cx="369" cy="183.2" r="1.85" fill="#3cb44b"/>
<circle cx="376.45" cy="183.2" r="1.85" fill="#5c1f78"/>
<circle cx="383.9" cy="183.2" r="1.85" fill="#f7941d"/>
<circle cx="396.5" cy="289.1" r="1.85" fill="#c8102e"/>
<circle cx="403.95" cy="289.1" r="1.85" fill="#0d4f8b"/>
<circle cx="411.4" cy="289.1" r="1.85" fill="#3cb44b"/>
<circle cx="418.85" cy="289.1" r="1.85" fill="#5c1f78"/>
<circle cx="426.3" cy="289.1" r="1.85" fill="#f7941d"/>
<circle cx="438.8" cy="289.1" r="1.85" fill="#c8102e"/>
<circle cx="446.25" cy="183.2" r="1.85" fill="#0d4f8b"/>
<circle cx="453.7" cy="183.2" r="1.85" fill="#3cb44b"/>
<circle cx="461.15" cy="183.2" r="1.85" fill="#5c1f78"/>
<circle cx="468.6" cy="183.2" r="1.85" fill="#f7941d"/>
<circle cx="481.3" cy="289.1" r="1.85" fill="#c8102e"/>
<circle cx="488.75" cy="289.1" r="1.85" fill="#0d4f8b"/>
<circle cx="496.2" cy="289.1" r="1.85" fill="#3cb44b"/>
<circle cx="503.65" cy="288.04" r="1.85" fill="#5c1f78"/>
<circle cx="511.1" cy="289.1" r="1.85" fill="#f7941d"/>
<text x="281.9" y="236.3" font-size="10" text-anchor="middle" textLength="70" lengthAdjust="spacingAndGlyphs" transform="rotate(-90 281.9 236.3)" style="stroke-width:0.05px">% CD45.1 of CD11b+</text>
<text x="326" y="302.9" font-size="8.7" text-anchor="middle" textLength="30" lengthAdjust="spacingAndGlyphs">9 Gy TBI</text>
<text x="366.4" y="302.9" font-size="8.7" text-anchor="middle" textLength="22.2" lengthAdjust="spacingAndGlyphs">CD45-</text>
<text x="365.85" y="311.8" font-size="8.7" text-anchor="middle" textLength="17.3" lengthAdjust="spacingAndGlyphs">ADC</text>
<text x="413.6" y="302.9" font-size="8.7" text-anchor="middle" textLength="28.6" lengthAdjust="spacingAndGlyphs">Isotype-</text>
<text x="411.65" y="311.8" font-size="8.7" text-anchor="middle" textLength="16.9" lengthAdjust="spacingAndGlyphs">ADC</text>
<text x="450.95" y="302.9" font-size="8.7" text-anchor="middle" textLength="22.4" lengthAdjust="spacingAndGlyphs">CD45-</text>
<text x="450.05" y="311.8" font-size="8.7" text-anchor="middle" textLength="17.2" lengthAdjust="spacingAndGlyphs">ADC</text>
<text x="492.8" y="302.9" font-size="8.7" text-anchor="middle" textLength="28.6" lengthAdjust="spacingAndGlyphs">Isotype-</text>
<text x="491.5" y="311.8" font-size="8.7" text-anchor="middle" textLength="16.9" lengthAdjust="spacingAndGlyphs">ADC</text>
<line x1="355.4" y1="314.6" x2="427.9" y2="314.6" stroke="#231f20" stroke-width="1.1"/>
<line x1="439.5" y1="314.6" x2="504" y2="314.6" stroke="#231f20" stroke-width="1.1"/>
<text x="392.15" y="324.7" font-size="9.6" text-anchor="middle" textLength="25.9" lengthAdjust="spacingAndGlyphs">Single</text>
<text x="392.75" y="335.8" font-size="9.6" text-anchor="middle" textLength="35.3" lengthAdjust="spacingAndGlyphs">5 mg/kg</text>
<text x="472.55" y="324.7" font-size="9.6" text-anchor="middle" textLength="52.7" lengthAdjust="spacingAndGlyphs">MultiQ2D<tspan font-size="7.68" style="stroke-width:0">×</tspan>2</text>
<text x="472.5" y="335.8" font-size="9.6" text-anchor="middle" textLength="35.6" lengthAdjust="spacingAndGlyphs">3 mg/kg</text>
<line x1="306" y1="342" x2="306" y2="451.85" stroke="#231f20" stroke-width="1.3"/>
<line x1="305.4" y1="451.25" x2="512" y2="451.25" stroke="#231f20" stroke-width="1.3"/>
<line x1="302.8" y1="345" x2="306" y2="345" stroke="#231f20" stroke-width="1.1"/>
<text x="300.7" y="347.75" font-size="8.6" text-anchor="end" textLength="13.11" lengthAdjust="spacingAndGlyphs">100</text>
<line x1="302.8" y1="371.56" x2="306" y2="371.56" stroke="#231f20" stroke-width="1.1"/>
<text x="300.7" y="374.31" font-size="8.6" text-anchor="end" textLength="8.74" lengthAdjust="spacingAndGlyphs">75</text>
<line x1="302.8" y1="398.12" x2="306" y2="398.12" stroke="#231f20" stroke-width="1.1"/>
<text x="300.7" y="400.88" font-size="8.6" text-anchor="end" textLength="8.74" lengthAdjust="spacingAndGlyphs">50</text>
<line x1="302.8" y1="424.69" x2="306" y2="424.69" stroke="#231f20" stroke-width="1.1"/>
<text x="300.7" y="427.44" font-size="8.6" text-anchor="end" textLength="8.74" lengthAdjust="spacingAndGlyphs">25</text>
<line x1="302.8" y1="451.25" x2="306" y2="451.25" stroke="#231f20" stroke-width="1.1"/>
<text x="300.7" y="454" font-size="8.6" text-anchor="end" textLength="4.37" lengthAdjust="spacingAndGlyphs">0</text>
<line x1="325.75" y1="451.25" x2="325.75" y2="454.25" stroke="#231f20" stroke-width="1.1"/>
<line x1="368.25" y1="451.25" x2="368.25" y2="454.25" stroke="#231f20" stroke-width="1.1"/>
<line x1="410.7" y1="451.25" x2="410.7" y2="454.25" stroke="#231f20" stroke-width="1.1"/>
<line x1="453.3" y1="451.25" x2="453.3" y2="454.25" stroke="#231f20" stroke-width="1.1"/>
<line x1="495.9" y1="451.25" x2="495.9" y2="454.25" stroke="#231f20" stroke-width="1.1"/>
<polyline points="310.75,451.25 318.25,345 325.75,345 333.25,345 340.75,345" fill="none" stroke="#231f20" stroke-width="0.9" stroke-linejoin="round"/>
<polyline points="353.25,451.25 360.75,345 368.25,345 375.75,345 383.25,345" fill="none" stroke="#231f20" stroke-width="0.9" stroke-linejoin="round"/>
<polyline points="395.7,451.25 403.2,451.25 410.7,451.25 418.2,451.25 425.7,451.25" fill="none" stroke="#231f20" stroke-width="0.9" stroke-linejoin="round"/>
<polyline points="438.3,451.25 445.8,345 453.3,345 460.8,345 468.3,345" fill="none" stroke="#231f20" stroke-width="0.9" stroke-linejoin="round"/>
<polyline points="480.9,451.25 488.4,449.55 495.9,445.94 503.4,451.25 510.9,451.25" fill="none" stroke="#231f20" stroke-width="0.9" stroke-linejoin="round"/>
<polyline points="480.9,451.25 488.4,451.25 495.9,451.25 503.4,451.25 510.9,451.25" fill="none" stroke="#231f20" stroke-width="0.9" stroke-linejoin="round"/>
<circle cx="310.75" cy="451.25" r="1.85" fill="#c8102e"/>
<circle cx="318.25" cy="345" r="1.85" fill="#0d4f8b"/>
<circle cx="325.75" cy="345" r="1.85" fill="#3cb44b"/>
<circle cx="333.25" cy="345" r="1.85" fill="#5c1f78"/>
<circle cx="340.75" cy="345" r="1.85" fill="#f7941d"/>
<circle cx="353.25" cy="451.25" r="1.85" fill="#c8102e"/>
<circle cx="360.75" cy="345" r="1.85" fill="#0d4f8b"/>
<circle cx="368.25" cy="345" r="1.85" fill="#3cb44b"/>
<circle cx="375.75" cy="345" r="1.85" fill="#5c1f78"/>
<circle cx="383.25" cy="345" r="1.85" fill="#f7941d"/>
<circle cx="395.7" cy="451.25" r="1.85" fill="#c8102e"/>
<circle cx="403.2" cy="451.25" r="1.85" fill="#0d4f8b"/>
<circle cx="410.7" cy="451.25" r="1.85" fill="#3cb44b"/>
<circle cx="418.2" cy="451.25" r="1.85" fill="#5c1f78"/>
<circle cx="425.7" cy="451.25" r="1.85" fill="#f7941d"/>
<circle cx="438.3" cy="451.25" r="1.85" fill="#c8102e"/>
<circle cx="445.8" cy="345" r="1.85" fill="#0d4f8b"/>
<circle cx="453.3" cy="345" r="1.85" fill="#3cb44b"/>
<circle cx="460.8" cy="345" r="1.85" fill="#5c1f78"/>
<circle cx="468.3" cy="345" r="1.85" fill="#f7941d"/>
<circle cx="480.9" cy="451.25" r="1.85" fill="#c8102e"/>
<circle cx="488.4" cy="449.55" r="1.85" fill="#0d4f8b"/>
<circle cx="495.9" cy="445.94" r="1.85" fill="#3cb44b"/>
<circle cx="503.4" cy="451.25" r="1.85" fill="#5c1f78"/>
<circle cx="510.9" cy="451.25" r="1.85" fill="#f7941d"/>
<circle cx="480.9" cy="451.25" r="1.85" fill="#c8102e"/>
<circle cx="488.4" cy="451.25" r="1.85" fill="#0d4f8b"/>
<circle cx="495.9" cy="451.25" r="1.85" fill="#3cb44b"/>
<circle cx="503.4" cy="451.25" r="1.85" fill="#5c1f78"/>
<circle cx="510.9" cy="451.25" r="1.85" fill="#f7941d"/>
<text x="281.9" y="399.2" font-size="10" text-anchor="middle" textLength="65" lengthAdjust="spacingAndGlyphs" transform="rotate(-90 281.9 399.2)" style="stroke-width:0.05px">% CD45.1 of B220+</text>
<text x="324.95" y="465.05" font-size="8.7" text-anchor="middle" textLength="30" lengthAdjust="spacingAndGlyphs">9 Gy TBI</text>
<text x="365.7" y="465.05" font-size="8.7" text-anchor="middle" textLength="22.2" lengthAdjust="spacingAndGlyphs">CD45-</text>
<text x="365.2" y="473.75" font-size="8.7" text-anchor="middle" textLength="17.3" lengthAdjust="spacingAndGlyphs">ADC</text>
<text x="412.5" y="465.05" font-size="8.7" text-anchor="middle" textLength="28.6" lengthAdjust="spacingAndGlyphs">Isotype-</text>
<text x="410.5" y="473.75" font-size="8.7" text-anchor="middle" textLength="16.9" lengthAdjust="spacingAndGlyphs">ADC</text>
<text x="450.5" y="465.05" font-size="8.7" text-anchor="middle" textLength="22.4" lengthAdjust="spacingAndGlyphs">CD45-</text>
<text x="449.6" y="473.75" font-size="8.7" text-anchor="middle" textLength="17.2" lengthAdjust="spacingAndGlyphs">ADC</text>
<text x="492.3" y="465.05" font-size="8.7" text-anchor="middle" textLength="28.6" lengthAdjust="spacingAndGlyphs">Isotype-</text>
<text x="490.5" y="473.75" font-size="8.7" text-anchor="middle" textLength="16.9" lengthAdjust="spacingAndGlyphs">ADC</text>
<line x1="354.7" y1="476.6" x2="426.6" y2="476.6" stroke="#231f20" stroke-width="1.1"/>
<line x1="438.8" y1="476.6" x2="503.2" y2="476.6" stroke="#231f20" stroke-width="1.1"/>
<text x="391" y="488.2" font-size="9.6" text-anchor="middle" textLength="25.9" lengthAdjust="spacingAndGlyphs">Single</text>
<text x="390.95" y="499.4" font-size="9.6" text-anchor="middle" textLength="35.3" lengthAdjust="spacingAndGlyphs">5 mg/kg</text>
<text x="470.8" y="488.2" font-size="9.6" text-anchor="middle" textLength="52.7" lengthAdjust="spacingAndGlyphs">MultiQ2D<tspan font-size="7.68" style="stroke-width:0">×</tspan>2</text>
<text x="471" y="499.4" font-size="9.6" text-anchor="middle" textLength="35.6" lengthAdjust="spacingAndGlyphs">3 mg/kg</text>
<line x1="306.7" y1="511.5" x2="306.7" y2="621" stroke="#231f20" stroke-width="1.3"/>
<line x1="306.1" y1="620.4" x2="512" y2="620.4" stroke="#231f20" stroke-width="1.3"/>
<line x1="303.5" y1="514.7" x2="306.7" y2="514.7" stroke="#231f20" stroke-width="1.1"/>
<text x="300.7" y="517.45" font-size="8.6" text-anchor="end" textLength="13.11" lengthAdjust="spacingAndGlyphs">100</text>
<line x1="303.5" y1="541.12" x2="306.7" y2="541.12" stroke="#231f20" stroke-width="1.1"/>
<text x="300.7" y="543.88" font-size="8.6" text-anchor="end" textLength="8.74" lengthAdjust="spacingAndGlyphs">75</text>
<line x1="303.5" y1="567.55" x2="306.7" y2="567.55" stroke="#231f20" stroke-width="1.1"/>
<text x="300.7" y="570.3" font-size="8.6" text-anchor="end" textLength="8.74" lengthAdjust="spacingAndGlyphs">50</text>
<line x1="303.5" y1="593.98" x2="306.7" y2="593.98" stroke="#231f20" stroke-width="1.1"/>
<text x="300.7" y="596.73" font-size="8.6" text-anchor="end" textLength="8.74" lengthAdjust="spacingAndGlyphs">25</text>
<line x1="303.5" y1="620.4" x2="306.7" y2="620.4" stroke="#231f20" stroke-width="1.1"/>
<text x="300.7" y="623.15" font-size="8.6" text-anchor="end" textLength="4.37" lengthAdjust="spacingAndGlyphs">0</text>
<line x1="326.9" y1="620.4" x2="326.9" y2="623.4" stroke="#231f20" stroke-width="1.1"/>
<line x1="369.2" y1="620.4" x2="369.2" y2="623.4" stroke="#231f20" stroke-width="1.1"/>
<line x1="411.4" y1="620.4" x2="411.4" y2="623.4" stroke="#231f20" stroke-width="1.1"/>
<line x1="453.7" y1="620.4" x2="453.7" y2="623.4" stroke="#231f20" stroke-width="1.1"/>
<line x1="496.3" y1="620.4" x2="496.3" y2="623.4" stroke="#231f20" stroke-width="1.1"/>
<polyline points="311.9,620.4 319.4,533.41 326.9,518.61 334.4,516.39 341.9,515.44" fill="none" stroke="#231f20" stroke-width="0.9" stroke-linejoin="round"/>
<polyline points="311.9,620.4 319.4,533.73 326.9,518.61 334.4,516.39 341.9,515.44" fill="none" stroke="#231f20" stroke-width="0.9" stroke-linejoin="round"/>
<polyline points="311.9,620.4 319.4,535.21 326.9,524.64 334.4,519.03 341.9,515.44" fill="none" stroke="#231f20" stroke-width="0.9" stroke-linejoin="round"/>
<polyline points="311.9,620.4 319.4,546.52 326.9,524.64 334.4,519.03 341.9,515.44" fill="none" stroke="#231f20" stroke-width="0.9" stroke-linejoin="round"/>
<polyline points="354.2,620.4 361.7,514.7 369.2,514.7 376.7,514.7 384.2,514.7" fill="none" stroke="#231f20" stroke-width="0.9" stroke-linejoin="round"/>
<polyline points="354.2,620.4 361.7,521.04 369.2,514.7 376.7,514.7 384.2,514.7" fill="none" stroke="#231f20" stroke-width="0.9" stroke-linejoin="round"/>
<polyline points="354.2,620.4 361.7,529.5 369.2,514.7 376.7,514.7 384.2,517.87" fill="none" stroke="#231f20" stroke-width="0.9" stroke-linejoin="round"/>
<polyline points="354.2,620.4 361.7,609.41 369.2,549.58 376.7,520.51 384.2,517.87" fill="none" stroke="#231f20" stroke-width="0.9" stroke-linejoin="round"/>
<polyline points="396.4,620.4 403.9,620.4 411.4,620.4 418.9,620.4 426.4,620.4" fill="none" stroke="#231f20" stroke-width="0.9" stroke-linejoin="round"/>
<polyline points="438.7,620.4 446.2,514.7 453.7,514.7 461.2,514.7 468.7,514.7" fill="none" stroke="#231f20" stroke-width="0.9" stroke-linejoin="round"/>
<polyline points="438.7,620.4 446.2,518.93 453.7,514.7 461.2,514.7 468.7,514.7" fill="none" stroke="#231f20" stroke-width="0.9" stroke-linejoin="round"/>
<polyline points="438.7,620.4 446.2,541.65 453.7,514.7 461.2,514.7 468.7,514.7" fill="none" stroke="#231f20" stroke-width="0.9" stroke-linejoin="round"/>
<polyline points="481.3,620.4 488.8,620.4 496.3,620.4 503.8,620.4 511.3,620.4" fill="none" stroke="#231f20" stroke-width="0.9" stroke-linejoin="round"/>
<circle cx="311.9" cy="620.4" r="1.85" fill="#c8102e"/>
<circle cx="319.4" cy="533.41" r="1.85" fill="#0d4f8b"/>
<circle cx="326.9" cy="518.61" r="1.85" fill="#3cb44b"/>
<circle cx="334.4" cy="516.39" r="1.85" fill="#5c1f78"/>
<circle cx="341.9" cy="515.44" r="1.85" fill="#f7941d"/>
<circle cx="311.9" cy="620.4" r="1.85" fill="#c8102e"/>
<circle cx="319.4" cy="533.73" r="1.85" fill="#0d4f8b"/>
<circle cx="326.9" cy="518.61" r="1.85" fill="#3cb44b"/>
<circle cx="334.4" cy="516.39" r="1.85" fill="#5c1f78"/>
<circle cx="341.9" cy="515.44" r="1.85" fill="#f7941d"/>
<circle cx="311.9" cy="620.4" r="1.85" fill="#c8102e"/>
<circle cx="319.4" cy="535.21" r="1.85" fill="#0d4f8b"/>
<circle cx="326.9" cy="524.64" r="1.85" fill="#3cb44b"/>
<circle cx="334.4" cy="519.03" r="1.85" fill="#5c1f78"/>
<circle cx="341.9" cy="515.44" r="1.85" fill="#f7941d"/>
<circle cx="311.9" cy="620.4" r="1.85" fill="#c8102e"/>
<circle cx="319.4" cy="546.52" r="1.85" fill="#0d4f8b"/>
<circle cx="326.9" cy="524.64" r="1.85" fill="#3cb44b"/>
<circle cx="334.4" cy="519.03" r="1.85" fill="#5c1f78"/>
<circle cx="341.9" cy="515.44" r="1.85" fill="#f7941d"/>
<circle cx="354.2" cy="620.4" r="1.85" fill="#c8102e"/>
<circle cx="361.7" cy="514.7" r="1.85" fill="#0d4f8b"/>
<circle cx="369.2" cy="514.7" r="1.85" fill="#3cb44b"/>
<circle cx="376.7" cy="514.7" r="1.85" fill="#5c1f78"/>
<circle cx="384.2" cy="514.7" r="1.85" fill="#f7941d"/>
<circle cx="354.2" cy="620.4" r="1.85" fill="#c8102e"/>
<circle cx="361.7" cy="521.04" r="1.85" fill="#0d4f8b"/>
<circle cx="369.2" cy="514.7" r="1.85" fill="#3cb44b"/>
<circle cx="376.7" cy="514.7" r="1.85" fill="#5c1f78"/>
<circle cx="384.2" cy="514.7" r="1.85" fill="#f7941d"/>
<circle cx="354.2" cy="620.4" r="1.85" fill="#c8102e"/>
<circle cx="361.7" cy="529.5" r="1.85" fill="#0d4f8b"/>
<circle cx="369.2" cy="514.7" r="1.85" fill="#3cb44b"/>
<circle cx="376.7" cy="514.7" r="1.85" fill="#5c1f78"/>
<circle cx="384.2" cy="517.87" r="1.85" fill="#f7941d"/>
<circle cx="354.2" cy="620.4" r="1.85" fill="#c8102e"/>
<circle cx="361.7" cy="609.41" r="1.85" fill="#0d4f8b"/>
<circle cx="369.2" cy="549.58" r="1.85" fill="#3cb44b"/>
<circle cx="376.7" cy="520.51" r="1.85" fill="#5c1f78"/>
<circle cx="384.2" cy="517.87" r="1.85" fill="#f7941d"/>
<circle cx="396.4" cy="620.4" r="1.85" fill="#c8102e"/>
<circle cx="403.9" cy="620.4" r="1.85" fill="#0d4f8b"/>
<circle cx="411.4" cy="620.4" r="1.85" fill="#3cb44b"/>
<circle cx="418.9" cy="620.4" r="1.85" fill="#5c1f78"/>
<circle cx="426.4" cy="620.4" r="1.85" fill="#f7941d"/>
<circle cx="438.7" cy="620.4" r="1.85" fill="#c8102e"/>
<circle cx="446.2" cy="514.7" r="1.85" fill="#0d4f8b"/>
<circle cx="453.7" cy="514.7" r="1.85" fill="#3cb44b"/>
<circle cx="461.2" cy="514.7" r="1.85" fill="#5c1f78"/>
<circle cx="468.7" cy="514.7" r="1.85" fill="#f7941d"/>
<circle cx="438.7" cy="620.4" r="1.85" fill="#c8102e"/>
<circle cx="446.2" cy="518.93" r="1.85" fill="#0d4f8b"/>
<circle cx="453.7" cy="514.7" r="1.85" fill="#3cb44b"/>
<circle cx="461.2" cy="514.7" r="1.85" fill="#5c1f78"/>
<circle cx="468.7" cy="514.7" r="1.85" fill="#f7941d"/>
<circle cx="438.7" cy="620.4" r="1.85" fill="#c8102e"/>
<circle cx="446.2" cy="541.65" r="1.85" fill="#0d4f8b"/>
<circle cx="453.7" cy="514.7" r="1.85" fill="#3cb44b"/>
<circle cx="461.2" cy="514.7" r="1.85" fill="#5c1f78"/>
<circle cx="468.7" cy="514.7" r="1.85" fill="#f7941d"/>
<circle cx="481.3" cy="620.4" r="1.85" fill="#c8102e"/>
<circle cx="488.8" cy="620.4" r="1.85" fill="#0d4f8b"/>
<circle cx="496.3" cy="620.4" r="1.85" fill="#3cb44b"/>
<circle cx="503.8" cy="620.4" r="1.85" fill="#5c1f78"/>
<circle cx="511.3" cy="620.4" r="1.85" fill="#f7941d"/>
<text x="281.9" y="568.35" font-size="10" text-anchor="middle" textLength="61.5" lengthAdjust="spacingAndGlyphs" transform="rotate(-90 281.9 568.35)" style="stroke-width:0.05px">% CD45.1 of CD3+</text>
<text x="326" y="634.1" font-size="8.7" text-anchor="middle" textLength="30" lengthAdjust="spacingAndGlyphs">9 Gy TBI</text>
<text x="366.7" y="634.1" font-size="8.7" text-anchor="middle" textLength="22.2" lengthAdjust="spacingAndGlyphs">CD45-</text>
<text x="366" y="643.2" font-size="8.7" text-anchor="middle" textLength="17.3" lengthAdjust="spacingAndGlyphs">ADC</text>
<text x="413.6" y="634.1" font-size="8.7" text-anchor="middle" textLength="28.6" lengthAdjust="spacingAndGlyphs">Isotype-</text>
<text x="411.6" y="643.2" font-size="8.7" text-anchor="middle" textLength="16.9" lengthAdjust="spacingAndGlyphs">ADC</text>
<text x="450.9" y="634.1" font-size="8.7" text-anchor="middle" textLength="22.4" lengthAdjust="spacingAndGlyphs">CD45-</text>
<text x="450" y="643.2" font-size="8.7" text-anchor="middle" textLength="17.2" lengthAdjust="spacingAndGlyphs">ADC</text>
<text x="492.8" y="634.1" font-size="8.7" text-anchor="middle" textLength="28.6" lengthAdjust="spacingAndGlyphs">Isotype-</text>
<text x="491.5" y="643.2" font-size="8.7" text-anchor="middle" textLength="16.9" lengthAdjust="spacingAndGlyphs">ADC</text>
<line x1="355.8" y1="646.1" x2="427.9" y2="646.1" stroke="#231f20" stroke-width="1.1"/>
<line x1="439.5" y1="646.1" x2="504" y2="646.1" stroke="#231f20" stroke-width="1.1"/>
<text x="392.15" y="657.5" font-size="9.6" text-anchor="middle" textLength="25.9" lengthAdjust="spacingAndGlyphs">Single</text>
<text x="392.5" y="668.3" font-size="9.6" text-anchor="middle" textLength="35.3" lengthAdjust="spacingAndGlyphs">5 mg/kg</text>
<text x="472.55" y="657.5" font-size="9.6" text-anchor="middle" textLength="52.7" lengthAdjust="spacingAndGlyphs">MultiQ2D<tspan font-size="7.68" style="stroke-width:0">×</tspan>2</text>
<text x="472.5" y="668.3" font-size="9.6" text-anchor="middle" textLength="35.6" lengthAdjust="spacingAndGlyphs">3 mg/kg</text>
<line x1="287.9" y1="681.3" x2="296.5" y2="681.3" stroke="#231f20" stroke-width="1"/>
<circle cx="292.2" cy="681.3" r="1.9" fill="#c8102e"/>
<text x="300.9" y="683.5" font-size="7.5" textLength="25.1" lengthAdjust="spacingAndGlyphs" style="stroke-width:0.06px">Week 0</text>
<line x1="330" y1="681.3" x2="338.7" y2="681.3" stroke="#231f20" stroke-width="1"/>
<circle cx="334.2" cy="681.3" r="1.9" fill="#0d4f8b"/>
<text x="343.1" y="683.5" font-size="7.5" textLength="24.4" lengthAdjust="spacingAndGlyphs" style="stroke-width:0.06px">Week 4</text>
<line x1="371.9" y1="681.3" x2="381" y2="681.3" stroke="#231f20" stroke-width="1"/>
<circle cx="376.2" cy="681.3" r="1.9" fill="#3cb44b"/>
<text x="385.4" y="683.5" font-size="7.5" textLength="24.4" lengthAdjust="spacingAndGlyphs" style="stroke-width:0.06px">Week 8</text>
<line x1="413.8" y1="681.3" x2="422.7" y2="681.3" stroke="#231f20" stroke-width="1"/>
<circle cx="418" cy="681.3" r="1.9" fill="#5c1f78"/>
<text x="426.9" y="683.5" font-size="7.5" textLength="29" lengthAdjust="spacingAndGlyphs" style="stroke-width:0.06px">Week 12</text>
<line x1="460.1" y1="681.3" x2="469.2" y2="681.3" stroke="#231f20" stroke-width="1"/>
<circle cx="464.5" cy="681.3" r="1.9" fill="#f7941d"/>
<text x="472.8" y="683.5" font-size="7.5" textLength="29.2" lengthAdjust="spacingAndGlyphs" style="stroke-width:0.06px">Week 22</text>
<text x="8.2" y="15.4" font-size="11.6" textLength="7.8" lengthAdjust="spacingAndGlyphs" font-weight="bold" style="stroke-width:0.9px">A</text>
<text x="274.2" y="15.6" font-size="12" textLength="6.3" lengthAdjust="spacingAndGlyphs" font-weight="bold" style="stroke-width:0.5px">B</text>
<rect x="0.5" y="0.5" width="519" height="690" fill="none" stroke="#000" stroke-width="1"/>
</svg></body></html>
